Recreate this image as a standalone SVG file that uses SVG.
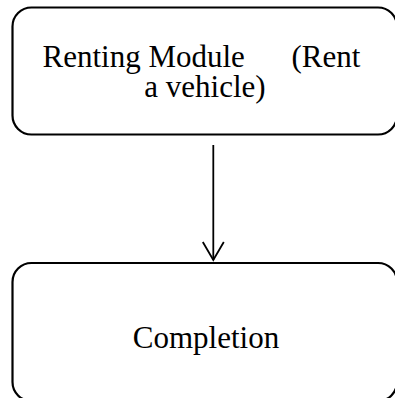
<svg xmlns="http://www.w3.org/2000/svg" width="395" height="398" viewBox="0 0 395 398">
  <style>
    .box { fill: #ffffff; stroke: #000000; stroke-width: 2.2; }
    .label { font-family: "Liberation Serif", "Times New Roman", serif; font-size: 31px; fill: #000000; }
    .edge { fill: none; stroke: #000000; stroke-width: 1.8; }
  </style>
  <defs>
    <!-- open V arrowhead, drawn pointing along +x so orient="auto" follows the line -->
    <marker id="open-arrow" markerUnits="userSpaceOnUse" markerWidth="24" markerHeight="26" refX="19" refY="11" orient="auto" viewBox="0 0 24 22" overflow="visible">
      <path d="M1,0.5 L19,11 L1,21.5" fill="none" stroke="#000000" stroke-width="1.8"/>
    </marker>
  </defs>
  <rect width="395" height="398" fill="#ffffff"/>

  <g id="renting-module">
    <rect class="box" x="12.5" y="7.5" width="384.5" height="127" rx="19" ry="19"/>
    <text class="label">
      <tspan x="42.5" y="66.7">Renting Module</tspan>
      <tspan x="368" y="66.7" text-anchor="end">(Rent</tspan>
      <tspan x="205" y="96.7" text-anchor="middle">a vehicle)</tspan>
    </text>
  </g>

  <g id="completion">
    <rect class="box" x="12.5" y="263" width="384.5" height="138" rx="19" ry="19"/>
    <text class="label" x="206" y="348.3" text-anchor="middle">Completion</text>
  </g>

  <g id="connectors">
    <line class="edge" x1="213.3" y1="145" x2="213.3" y2="260" marker-end="url(#open-arrow)"/>
  </g>
</svg>
